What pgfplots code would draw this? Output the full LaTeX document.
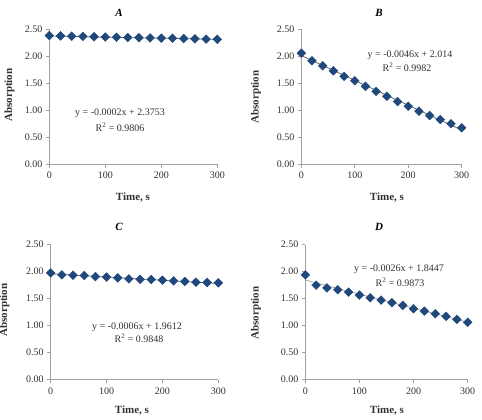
\documentclass[border=0pt]{standalone}
\usepackage{pgfplots}
\pgfplotsset{compat=1.18}
\usepackage{fontspec}
\setmainfont{Liberation Serif}

\definecolor{markblue}{RGB}{31,72,124}
\definecolor{axisgray}{RGB}{160,160,160}
\definecolor{textgray}{RGB}{50,50,50}
\definecolor{trendgray}{RGB}{90,90,90}

\pgfplotsset{
  kinetics/.style={
    scale only axis,
    height=135pt,
    anchor=south west,
    xmin=0, xmax=300, ymin=0, ymax=2.5,
    axis x line=bottom, axis y line=left,
    axis line style={-, axisgray, line width=0.6pt},
    xtick={0,100,200,300},
    ytick={0,0.5,1,1.5,2,2.5},
    tick align=outside,
    major tick length=3.5pt,
    tick style={axisgray, line width=0.6pt},
    yticklabel style={/pgf/number format/.cd, fixed, fixed zerofill, precision=2},
    /pgf/number format/assume math mode=true,
    ticklabel style={font=\fontsize{10}{12}\selectfont, text=textgray},
    xticklabel style={yshift=-1pt},
    clip=false,
  },
  pts/.style={only marks, mark=square*, mark size=3.1pt,
    mark options={rotate=45, fill=markblue, draw=markblue}},
  trend/.style={no marks, trendgray, line width=0.7pt},
}

\begin{document}
\begin{tikzpicture}
\useasboundingbox (0pt,0pt) rectangle (482pt,420pt);

% Panel A
\begin{axis}[kinetics, at={(49.3pt,255.7pt)}, width=168pt]
  \addplot[trend] coordinates {(0,2.3753) (300,2.3153)};
  \addplot[pts] coordinates {
    (0,2.383) (20,2.378) (40,2.372) (60,2.368) (80,2.362) (100,2.357)
    (120,2.354) (140,2.348) (160,2.344) (180,2.340) (200,2.336) (220,2.333)
    (240,2.328) (260,2.324) (280,2.319) (300,2.315)};
\end{axis}

% Panel B
\begin{axis}[kinetics, at={(301.3pt,255.7pt)}, width=160.4pt]
  \addplot[trend] coordinates {(0,2.014) (300,0.634)};
  \addplot[pts] coordinates {
    (0,2.058) (20,1.916) (40,1.824) (60,1.732) (80,1.628) (100,1.548)
    (120,1.443) (140,1.351) (160,1.259) (180,1.161) (200,1.075) (220,0.983)
    (240,0.903) (260,0.829) (280,0.750) (300,0.676)};
\end{axis}

% Panel C
\begin{axis}[kinetics, at={(50.7pt,40.3pt)}, width=167.6pt]
  \addplot[trend] coordinates {(0,1.9612) (300,1.7812)};
  \addplot[pts] coordinates {
    (0,1.978) (20,1.940) (40,1.935) (60,1.930) (80,1.910) (100,1.900)
    (120,1.886) (140,1.867) (160,1.860) (180,1.855) (200,1.843) (220,1.830)
    (240,1.820) (260,1.806) (280,1.800) (300,1.794)};
\end{axis}

% Panel D
\begin{axis}[kinetics, at={(305.3pt,40.3pt)}, width=162.4pt]
  \addplot[trend, trendgray!60] coordinates {(0,1.8447) (300,1.0647)};
  \addplot[pts] coordinates {
    (0,1.941) (20,1.750) (40,1.700) (60,1.665) (80,1.622) (100,1.567)
    (120,1.517) (140,1.474) (160,1.425) (180,1.376) (200,1.314) (220,1.271)
    (240,1.222) (260,1.173) (280,1.118) (300,1.063)};
\end{axis}

\begin{scope}[x=1pt, y=1pt]
% Panel titles
\begin{scope}[every node/.style={font=\fontsize{11}{13}\selectfont\bfseries\itshape}]
  \node at (119,407) {A};
  \node at (379,407) {B};
  \node at (119,193) {C};
  \node at (379,193) {D};
\end{scope}

% Axis labels
\begin{scope}[every node/.style={font=\fontsize{11}{13}\selectfont\bfseries, text=textgray}]
  \node at (133,222) {Time, s};
  \node at (387,222) {Time, s};
  \node at (132,9) {Time, s};
  \node at (387,9) {Time, s};
  \node[rotate=90] at (9.5,325) {Absorption};
  \node[rotate=90] at (256,323) {Absorption};
  \node[rotate=90] at (4.5,110) {Absorption};
  \node[rotate=90] at (256,107) {Absorption};
\end{scope}

% Regression equations
\begin{scope}[every node/.style={font=\fontsize{10}{12}\selectfont, text=textgray}]
  \node at (120,307) {y = -0.0002x + 2.3753};
  \node at (120,293) {R\textsuperscript{2} = 0.9806};
  \node at (410,365) {y = -0.0046x + 2.014};
  \node at (407,353) {R\textsuperscript{2} = 0.9982};
  \node at (137,93) {y = -0.0006x + 1.9612};
  \node at (139,82) {R\textsuperscript{2} = 0.9848};
  \node at (399,151) {y = -0.0026x + 1.8447};
  \node at (400,138) {R\textsuperscript{2} = 0.9873};
\end{scope}
\end{scope}
\end{tikzpicture}
\end{document}
